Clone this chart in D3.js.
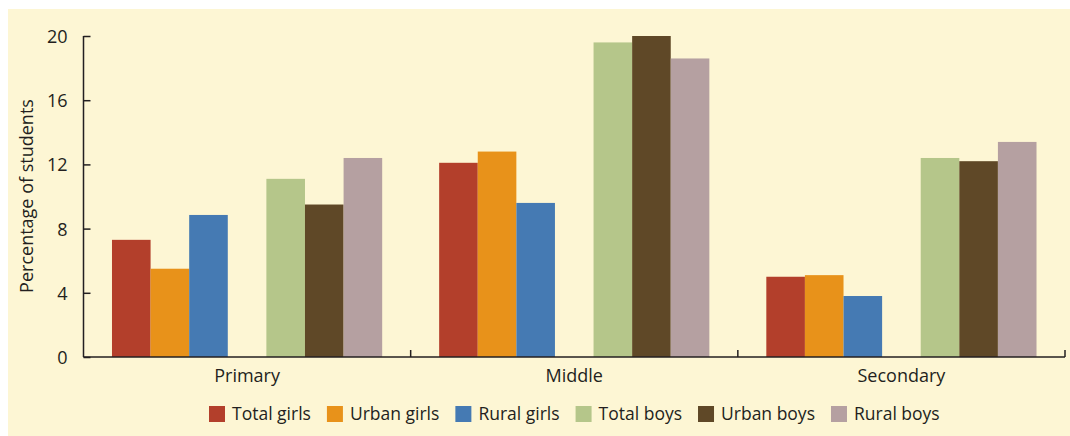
<!DOCTYPE html>
<html><head><meta charset="utf-8">
<script src="https://d3js.org/d3.v7.min.js"></script>
<style>body{margin:0;background:#fff}svg{display:block}text{font-family:"Open Sans",sans-serif;fill:#231f20}</style>
</head><body><svg id="c" width="1070" height="436"></svg>
<script>
const categories = ["Primary", "Middle", "Secondary"];
const seriesNames = ["Total girls", "Urban girls", "Rural girls", "Total boys", "Urban boys", "Rural boys"];
const totalGirls = [7.3, 12.1, 5.0];
const urbanGirls = [5.5, 12.8, 5.1];
const ruralGirls = [8.85, 9.6, 3.8];
const totalBoys = [11.1, 19.6, 12.4];
const urbanBoys = [9.5, 20.0, 12.2];
const ruralBoys = [12.4, 18.6, 13.4];
const yTicks = [0, 4, 8, 12, 16, 20];
const colors = ["#b33f2b", "#e8921a", "#457ab3", "#b5c68a", "#5f4827", "#b5a0a1"];

const series = [totalGirls, urbanGirls, ruralGirls, totalBoys, urbanBoys, ruralBoys];
// slot positions: 3 girls, empty slot, 3 boys
const slots = ["s0", "s1", "s2", "gap", "s3", "s4", "s5"];

const svg = d3.select("#c");
svg.append("rect").attr("x", 8).attr("y", 9).attr("width", 1062).attr("height", 427).attr("fill", "#fdf6d4");

const m = {l: 83.5, r: 1065, t: 36, b: 357};
const x = d3.scaleBand().domain(categories).range([m.l, m.r]).paddingInner(0).paddingOuter(0);
const xs = d3.scaleBand().domain(slots).range([0, x.bandwidth()]).paddingInner(0).paddingOuter(0.738);
const y = d3.scaleLinear().domain([0, 20]).range([m.b, m.t]);

const g = svg.append("g");
series.forEach((vals, si) => {
  g.selectAll(null).data(vals.map((v, ci) => ({v, c: categories[ci]}))).enter().append("rect")
    .attr("x", d => x(d.c) + xs("s" + si))
    .attr("width", xs.bandwidth())
    .attr("y", d => y(d.v))
    .attr("height", d => y(0) - y(d.v))
    .attr("fill", colors[si]);
});

// y axis
const ya = svg.append("g").attr("transform", `translate(${m.l},0)`)
  .call(d3.axisLeft(y).tickValues(yTicks).tickSize(-7).tickPadding(16).tickFormat(d3.format("d")));
ya.select(".domain").attr("stroke", "#231f20").attr("stroke-width", 1.5).attr("d", `M-0,${m.t}V${m.b}`);
ya.selectAll(".tick line").attr("stroke", "#231f20").attr("stroke-width", 1.5);
ya.selectAll("text").style("font-size", "18px").attr("fill", "#231f20").attr("dy", "0.36em");

// x axis
const xa = svg.append("g").attr("transform", `translate(0,${m.b})`)
  .call(d3.axisBottom(x).tickSize(0).tickPadding(12));
xa.select(".domain").attr("stroke", "#231f20").attr("stroke-width", 1.5).attr("d", `M${m.l},0H${m.r}`);
xa.selectAll("text").style("font-size", "18px").attr("fill", "#231f20");
// boundary ticks pointing up
const bounds = categories.slice(1).map(c => x(c)).concat([m.r]);
svg.append("g").selectAll("line").data(bounds).enter().append("line")
  .attr("x1", d => d).attr("x2", d => d).attr("y1", m.b).attr("y2", m.b - 7)
  .attr("stroke", "#231f20").attr("stroke-width", 1.5);

// y label
svg.append("text").attr("transform", "translate(33,196) rotate(-90)").attr("text-anchor", "middle")
  .style("font-size", "18px").text("Percentage of students");

// legend
const lg = svg.append("g").attr("transform", "translate(209,406)");
let cx = 0;
seriesNames.forEach((n, i) => {
  const it = lg.append("g").attr("transform", `translate(${cx},0)`);
  it.append("rect").attr("width", 16).attr("height", 16).attr("fill", colors[i]);
  const t = it.append("text").attr("x", 23).attr("y", 14).style("font-size", "17.5px").text(n);
  cx += 23 + t.node().getComputedTextLength() + 16;
});
</script></body></html>
